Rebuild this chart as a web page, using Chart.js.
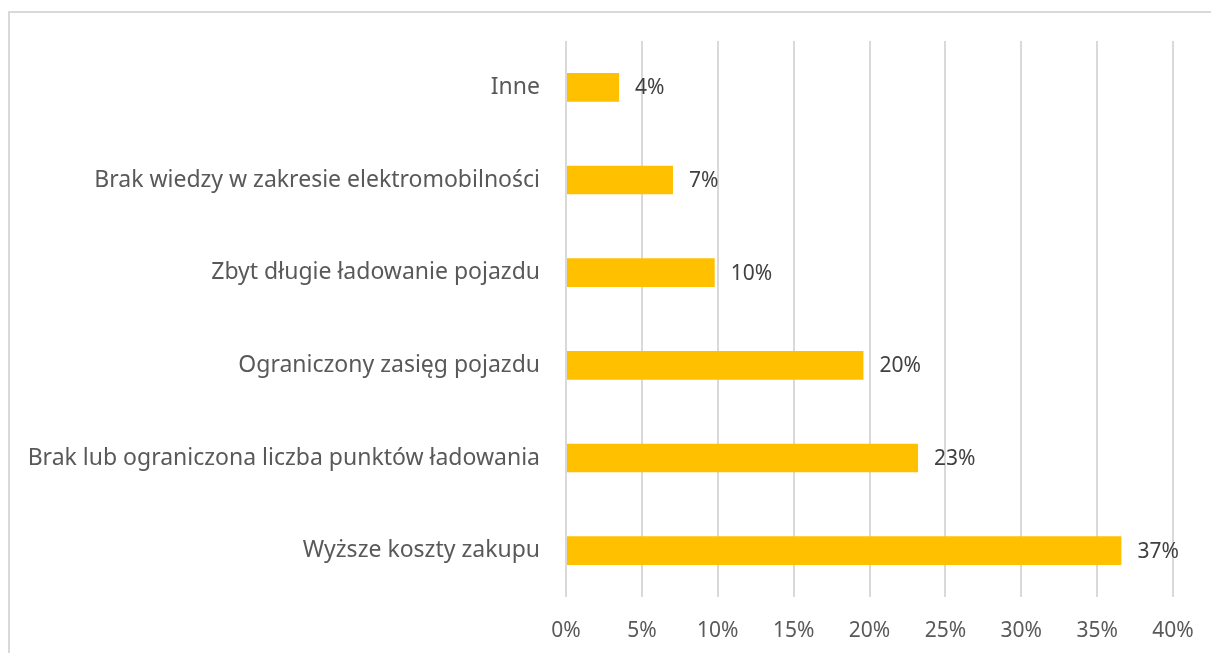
<!DOCTYPE html>
<html>
<head>
<meta charset="utf-8">
<script src="https://cdn.jsdelivr.net/npm/chart.js@4/dist/chart.umd.min.js"></script>
<style>
  html, body { margin: 0; padding: 0; background: #ffffff; }
  #wrap { position: relative; width: 1211px; height: 653px; overflow: hidden; }
  #frame {
    position: absolute; left: 8px; top: 11px; right: -4px; bottom: -4px;
    border-left: 2px solid #d9d9d9; border-top: 2px solid #d9d9d9;
  }
  canvas { position: absolute; left: 0; top: 0; }
</style>
</head>
<body>
<div id="wrap">
  <div id="frame"></div>
  <canvas id="chart" width="1211" height="653"></canvas>
</div>
<script>
const categories = [
  "Inne",
  "Brak wiedzy w zakresie elektromobilności",
  "Zbyt długie ładowanie pojazdu",
  "Ograniczony zasięg pojazdu",
  "Brak lub ograniczona liczba punktów ładowania",
  "Wyższe koszty zakupu"
];
const shares = [3.5, 7.05, 9.8, 19.6, 23.2, 36.6];
const shareLabels = ["4%", "7%", "10%", "20%", "23%", "37%"];
const xTicks = [0, 5, 10, 15, 20, 25, 30, 35, 40];

const FONT = "'Noto Sans', sans-serif";

// Excel-style value labels just past the end of each bar
const barLabels = {
  id: "barLabels",
  afterDatasetsDraw(chart) {
    const ctx = chart.ctx;
    const meta = chart.getDatasetMeta(0);
    ctx.save();
    ctx.font = `21px ${FONT}`;
    ctx.fillStyle = "#404040";
    ctx.textAlign = "left";
    ctx.textBaseline = "middle";
    meta.data.forEach((bar, i) => {
      ctx.fillText(shareLabels[i], bar.x + 16, bar.y + 1);
    });
    ctx.restore();
  }
};

new Chart(document.getElementById("chart"), {
  type: "bar",
  data: {
    labels: categories,
    datasets: [
      {
        data: shares,
        backgroundColor: "#ffc000",
        borderWidth: 0,
        barPercentage: 0.62,
        categoryPercentage: 0.5
      }
    ]
  },
  options: {
    indexAxis: "y",
    responsive: false,
    animation: false,
    layout: { padding: { top: 41, right: 38, left: 0, bottom: 0 } },
    plugins: {
      legend: { display: false },
      tooltip: { enabled: false }
    },
    scales: {
      x: {
        min: 0,
        max: 40,
        afterBuildTicks(scale) {
          scale.ticks = xTicks.map(v => ({ value: v }));
        },
        afterFit(scale) {
          scale.height = 56;
          scale.paddingLeft = 0;
          scale.paddingRight = 0;
        },
        ticks: {
          color: "#595959",
          font: { family: FONT, size: 21 },
          padding: 21,
          callback: v => `${v}%`
        },
        grid: { color: "#d9d9d9", lineWidth: 2, drawTicks: false },
        border: { display: false }
      },
      y: {
        afterFit(scale) {
          scale.width = 566;
        },
        ticks: {
          color: "#595959",
          font: { family: FONT, size: 23 },
          padding: 26
        },
        grid: { display: false, drawTicks: false },
        border: { display: false }
      }
    }
  },
  plugins: [barLabels]
});
</script>
</body>
</html>
